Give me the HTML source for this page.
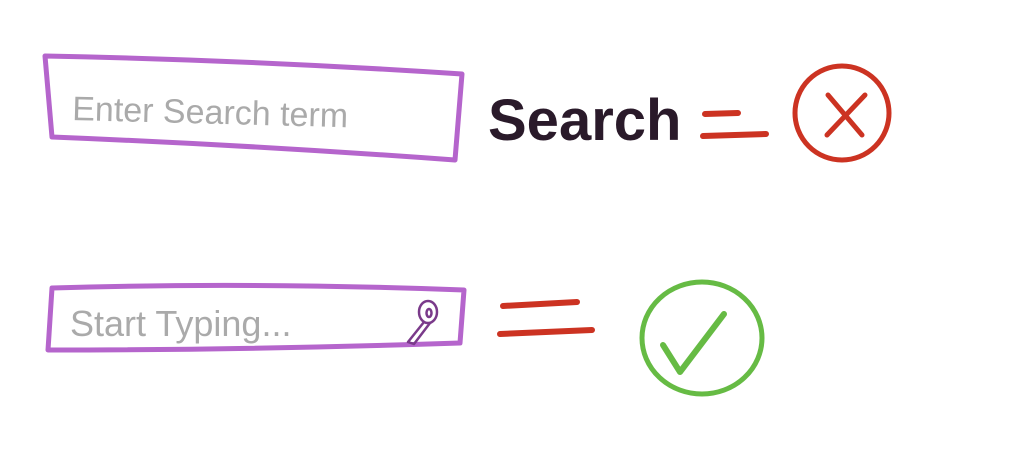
<!DOCTYPE html>
<html><head><style>
html,body{margin:0;padding:0;background:#fff;width:1024px;height:467px;overflow:hidden}
svg{display:block}
</style></head><body>
<svg width="1024" height="467" viewBox="0 0 1024 467" xmlns="http://www.w3.org/2000/svg">
<g fill="none" stroke="#b565cc" stroke-width="5" stroke-linecap="round" stroke-linejoin="round">
<path d="M45 56 Q250 60 462 74 L455 160 Q250 145 52 137 Z"/>
<path d="M52 288 Q250 282 464 290 L460 343 Q250 350 48 350 Z"/>
</g>
<g font-family="'Liberation Sans',sans-serif" fill="#aaa" font-size="32">
<text x="72" y="120" font-size="34" transform="rotate(1.5 72 120)">Enter  Search term</text>
<text x="70" y="336" font-size="36">Start Typing...</text>
</g>
<text x="488" y="140" font-family="'Liberation Sans',sans-serif" font-weight="bold" font-size="58" fill="#2a1a2a">Search</text>
<g stroke="#cc3322" stroke-width="6" stroke-linecap="round">
<line x1="705" y1="114" x2="738" y2="113"/>
<line x1="703" y1="136" x2="766" y2="134"/>
<line x1="503" y1="306" x2="577" y2="302"/>
<line x1="500" y1="334" x2="592" y2="330"/>
</g>
<ellipse cx="842" cy="113" rx="47" ry="47" fill="none" stroke="#cc3322" stroke-width="5"/>
<g stroke="#cc3322" stroke-width="5" stroke-linecap="round">
<line x1="828" y1="95" x2="862" y2="135"/>
<line x1="865" y1="95" x2="827" y2="135"/>
</g>
<ellipse cx="702" cy="338" rx="60" ry="56" fill="none" stroke="#66bb44" stroke-width="5"/>
<path d="M663 345 L680 372 L724 314" fill="none" stroke="#66bb44" stroke-width="6" stroke-linecap="round" stroke-linejoin="round"/>
<g stroke="#7a3a8a" stroke-width="2.5" fill="none" stroke-linecap="round">
<ellipse cx="428" cy="312" rx="9" ry="11"/>
<ellipse cx="429" cy="313" rx="2.5" ry="4"/>
<path d="M424 322 L408 342 M430 323 L414 344 M408 342 L414 344"/>
</g>
</svg>
</body></html>
